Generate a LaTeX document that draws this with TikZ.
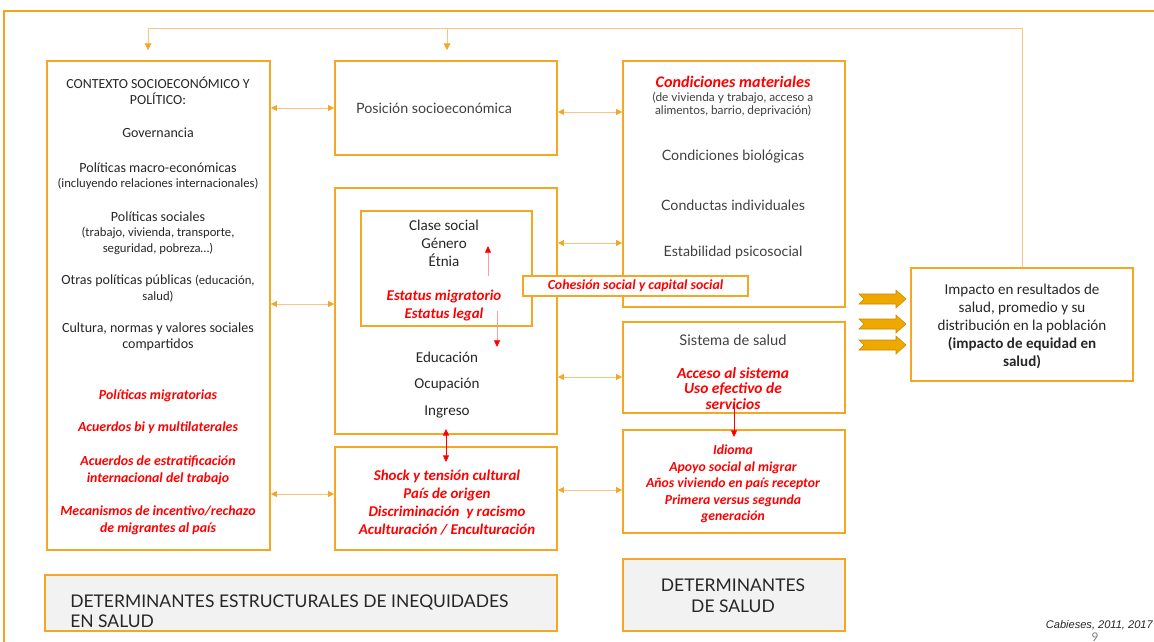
\documentclass[tikz,border=0pt]{standalone}
\usepackage{fontspec}
\setmainfont{Carlito}
\newfontfamily\gillfont{Lato}
\newfontfamily\arialfont{Liberation Sans}
\usetikzlibrary{arrows.meta,fit,calc}
\definecolor{MapOrange}{HTML}{F5A623}
\definecolor{MapFrame}{HTML}{F5A31A}
\definecolor{MapLink}{HTML}{F9C584}
\definecolor{MapRed}{HTML}{FF0000}
\definecolor{MapPink}{HTML}{F7A0A0}
\definecolor{MapGrey}{HTML}{F2F2F2}
\definecolor{MapText}{HTML}{262626}
\definecolor{MapSoft}{HTML}{404040}
\definecolor{MapGold}{HTML}{EEA800}
\definecolor{MapGoldDark}{HTML}{C48C00}
\tikzset{
  frame/.style={draw=MapFrame,line width=2.2pt},
  mapbox/.style={draw=MapOrange,line width=1.4pt,inner sep=0pt},
  greybox/.style={mapbox,fill=MapGrey},
  link/.style={{Triangle[length=4.5pt,width=4.5pt,color=MapOrange]}-{Triangle[length=4.5pt,width=4.5pt,color=MapOrange]},line width=0.6pt,draw=MapLink},
  feedline/.style={-{Triangle[length=5pt,width=5pt,color=MapOrange]},line width=0.6pt,draw=MapLink},
  redlink/.style={-{Triangle[length=5pt,width=4.5pt,color=MapRed]},line width=0.6pt,draw=MapRed},
  redboth/.style={redlink,{Triangle[length=5pt,width=4.5pt,color=MapRed]}-{Triangle[length=5pt,width=4.5pt,color=MapRed]}},
  blockarrow/.style={fill=MapGold,draw=MapGoldDark,line width=0.4pt},
  bodytext/.style={align=center,inner sep=0pt,text=MapText,font=\fontsize{10.5}{12}\selectfont},
  minor/.style={bodytext,font=\fontsize{9.5}{12}\selectfont},
  midtext/.style={bodytext,font=\fontsize{11.3}{13.5}\selectfont},
  accent/.style={align=center,inner sep=0pt,text=MapRed,font=\fontsize{10.4}{12.8}\selectfont\bfseries\itshape},
  soft/.style={align=center,inner sep=0pt,text=MapSoft,font=\gillfont\fontsize{10.7}{12}\selectfont},
  heading/.style={inner sep=0pt,text=MapText,font=\gillfont\fontsize{13.1}{15}\selectfont}
}
\begin{document}
\begin{tikzpicture}[x=0.75pt,y=-0.75pt]
  \useasboundingbox (0,0) rectangle (1154,642);
  \draw[frame] (1154,11) -- (4,11) -- (4,642);

  % boxes
  \node[mapbox,fit={(47,61) (270,550)}] (ctxbox) {};
  \node[mapbox,fit={(335,61) (557,155)}] (posbox) {};
  \node[mapbox,fit={(335,188) (557,434)}] (midbox) {};
  \node[mapbox,fit={(361,211) (532,326)}] (innerbox) {};
  \node[mapbox,fit={(335,447) (557,550)}] (shockbox) {};
  \node[mapbox,fit={(623,61) (845,307)}] (condbox) {};
  \node[mapbox,fit={(623,322) (845,413)}] (sysbox) {};
  \node[mapbox,fit={(623,430) (845,533)}] (idbox) {};
  \node[mapbox,fit={(911,268) (1133,381)}] (impact) {};
  \node[mapbox,line width=1.1pt,fill=white,fit={(523,276) (748,296)}] (cohbox) {};
  \node[greybox,fit={(45,575) (557,631)}] (structbox) {};
  \node[greybox,fit={(623,559) (845,631)}] (detbox) {};

  % contexto
  \node[bodytext,font=\fontsize{10.4}{12}\selectfont] (ctxtitle) at (158,91) {CONTEXTO SOCIOECONÓMICO Y\\POLÍTICO:};
  \node[bodytext] (gov) at (158,133) {Governancia};
  \node[bodytext] (macro) at (158,168) {Políticas macro-económicas};
  \node[minor] (macronote) at (158,184) {(incluyendo relaciones internacionales)};
  \node[bodytext] (social) at (158,217) {Políticas sociales};
  \node[minor] (socialnote) at (158,241) {(trabajo, vivienda, transporte,\\seguridad, pobreza…)};
  \node[bodytext] (otras) at (158,289) {Otras políticas públicas {\fontsize{9.5}{12}\selectfont(educación,}\\{\fontsize{9.5}{12}\selectfont salud)}};
  \node[bodytext] (cultura) at (158,337) {Cultura, normas y valores sociales\\compartidos};
  \node[accent] (migpol) at (158,396) {Políticas migratorias};
  \node[accent] (acuerdos) at (158,428) {Acuerdos bi y multilaterales};
  \node[accent] (estrat) at (158,470.5) {Acuerdos de estratificación\\internacional del trabajo};
  \node[accent] (mecan) at (158,520) {Mecanismos de incentivo/rechazo\\de migrantes al país};

  % posicion y estratificacion
  \node[soft] (pos) at (434,108) {Posición socioeconómica};
  \node[midtext] (clase) at (444,243) {Clase social\\Género\\Étnia};
  \node[accent,font=\fontsize{11.2}{13.5}\selectfont\bfseries\itshape] (status) at (444,306) {Estatus migratorio\\Estatus legal};
  \node[midtext] (educ) at (447,357) {Educación};
  \node[midtext] (ocup) at (447,385) {Ocupación};
  \node[midtext] (ingreso) at (447,412) {Ingreso};
  \node[accent,font=\fontsize{11.2}{13.5}\selectfont\bfseries\itshape] (shock) at (447,503) {Shock y tensión cultural\\País de origen\\Discriminación~ y racismo\\Aculturación / Enculturación};

  % determinantes intermedios
  \node[accent,font=\fontsize{12.1}{12}\selectfont\bfseries\itshape] (matcond) at (733,82) {Condiciones materiales};
  \node[soft,font=\gillfont\fontsize{8.9}{9.75}\selectfont] (matnote) at (733,104.5) {(de vivienda y trabajo, acceso a\\alimentos, barrio, deprivación)};
  \node[soft] (bio) at (733,157) {Condiciones biológicas};
  \node[soft] (conduct) at (733,205) {Conductas individuales};
  \node[soft] (psico) at (733,252) {Estabilidad psicosocial};
  \node[accent] (coh) at (cohbox.center) {Cohesión social y capital social};
  \node[soft,font=\gillfont\fontsize{11}{12}\selectfont] (sistema) at (733,340) {Sistema de salud};
  \node[accent,font=\fontsize{11.6}{11.6}\selectfont\bfseries\itshape] (acceso) at (733,388.5) {Acceso al sistema\\Uso efectivo de\\servicios};
  \node[accent,font=\fontsize{10.3}{12.4}\selectfont\bfseries\itshape] (idioma) at (733,484) {Idioma\\Apoyo social al migrar\\Años viviendo en país receptor\\Primera versus segunda\\generación};

  % resultado
  \node[bodytext,font=\fontsize{11.3}{13.6}\selectfont] (impacttext) at (1022,326.5) {Impacto en resultados de\\salud, promedio y su\\distribución en la población\\\textbf{(impacto de equidad en}\\\textbf{salud)}};

  % titulos
  \node[heading,anchor=west,align=left] (structtext) at (70,611) {DETERMINANTES ESTRUCTURALES DE INEQUIDADES\\EN SALUD};
  \node[heading,align=center,font=\gillfont\fontsize{13.1}{15.75}\selectfont] (dettext) at (733,595.5) {DETERMINANTES\\DE SALUD};
  \node[inner sep=0pt,anchor=east,text=MapText,font=\arialfont\itshape\fontsize{8.3}{10}\selectfont] (cite) at (1153,625) {Cabieses, 2011, 2017};
  \node[inner sep=0pt,text=gray,font=\gillfont\fontsize{9}{10}\selectfont] (page) at (1095,637) {9};

  % conexiones
  \draw[link] (ctxbox.east |- posbox.west) -- (posbox.west);
  \draw[link] (ctxbox.east |- 0,304) -- (midbox.west |- 0,304);
  \draw[link] (ctxbox.east |- 0,494) -- (shockbox.west |- 0,494);
  \draw[link] (posbox.east |- 0,112) -- (condbox.west |- 0,112);
  \draw[link] (midbox.east |- 0,243) -- (condbox.west |- 0,243);
  \draw[link] (midbox.east |- 0,377) -- (sysbox.west |- 0,377);
  \draw[link] (shockbox.east |- 0,490) -- (idbox.west |- 0,490);

  \coordinate (fbl) at (148,28);
  \coordinate (fbm) at (447,28);
  \draw[feedline,shorten >=7.5pt] (impact.north) |- (fbl) -- (fbl |- ctxbox.north);
  \draw[feedline,shorten >=7.5pt] (fbm) -- (fbm |- posbox.north);

  \coordinate (riseA) at (488,276);
  \coordinate (riseB) at (488,246);
  \coordinate (dropA) at (497,311);
  \coordinate (dropB) at (497,347);
  \draw[redlink,draw=MapPink] (riseA) -- (riseB);
  \draw[redlink,draw=MapPink] (dropA) -- (dropB);
  \draw[redboth] ([yshift=4.5pt]midbox.south) -- ([yshift=-12pt]shockbox.north);
  \draw[redlink] ([yshift=8pt]sysbox.south) -- ([yshift=-6pt]idbox.north);

  \foreach \y in {299,324,345}
    \filldraw[blockarrow] (859,\y-5) -- (896,\y-5) -- (896,\y-9) -- (906,\y) -- (896,\y+9) -- (896,\y+5) -- (859,\y+5) -- (864,\y) -- cycle;
\end{tikzpicture}
\end{document}
